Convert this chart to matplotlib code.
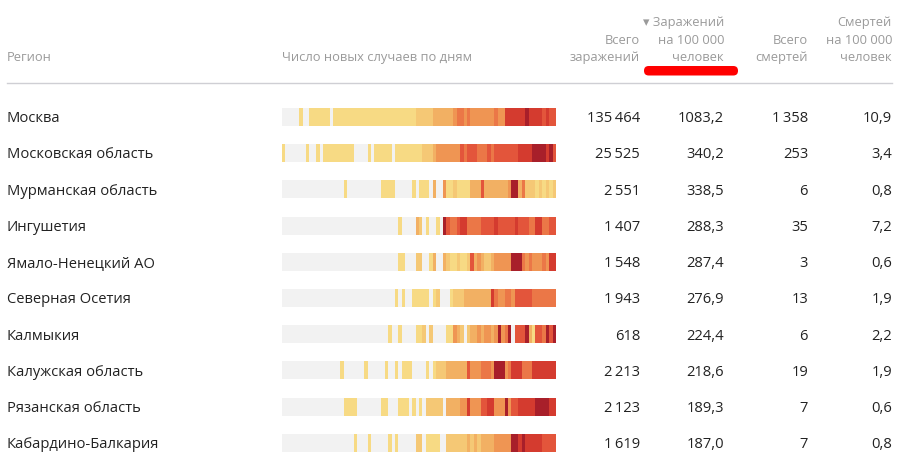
import matplotlib
matplotlib.use("Agg")
import matplotlib.pyplot as plt
import numpy as np
from matplotlib.colors import ListedColormap
from matplotlib.patches import FancyBboxPatch

plt.rcParams['font.family'] = ['Open Sans', 'DejaVu Sans']

regions = ["Москва", "Московская область", "Мурманская область", "Ингушетия",
           "Ямало-Ненецкий АО", "Северная Осетия", "Калмыкия", "Калужская область",
           "Рязанская область", "Кабардино-Балкария"]
total_cases = [135464, 25525, 2551, 1407, 1548, 1943, 618, 2213, 2123, 1619]
cases_100k = [1083.2, 340.2, 338.5, 288.3, 287.4, 276.9, 224.4, 218.6, 189.3, 187.0]
total_deaths = [1358, 253, 6, 35, 3, 13, 6, 19, 7, 7]
deaths_100k = [10.9, 3.4, 0.8, 7.2, 0.6, 1.9, 2.2, 1.9, 0.6, 0.8]

# daily intensity level (0 = no cases ... 8 = max), 80 days per region
daily_levels = [
    "0000010011" "1111011111" "1111111111" "1111111112" "2222333333" "4554544444" "4454477777" "7877776766",
    "1000000100" "1011111111" "1000010111" "1101111111" "1222344444" "4465666555" "6566666667" "7778888786",
    "0000000000" "0000000010" "0000000001" "1110000010" "1110300411" "2111133363" "3333334883" "5222121212",
    "0000000000" "0000000000" "0000000000" "0000100003" "2010010865" "5677555566" "6676666676" "6655775566",
    "0000000000" "0000000000" "0000000000" "0000110002" "2001300321" "1211263432" "2344444888" "5454445477",
    "0000000000" "0000000000" "0000000000" "0001010011" "1110120001" "2223333333" "3754455466" "6665555555",
    "0000000000" "0000000000" "0000000000" "0100100001" "1202000011" "4320233434" "4348458066" "6831665868",
    "0000000000" "0000000100" "0000100000" "1001011100" "0010122233" "3333644455" "5488845777" "5557777777",
    "0000000000" "0000000011" "1100000001" "1000111010" "1022222033" "3344744466" "7744484667" "7777888877",
    "0000000000" "0000000000" "0100010000" "0101000002" "2011110022" "2222323233" "3344444887" "8777776666",
]

level_colors = ["#f2f2f2", "#f7da84", "#f5c875", "#f2b063", "#ef9553",
                "#eb7747", "#e3553b", "#d43b2f", "#a81f2a"]
cmap = ListedColormap(level_colors)


def fmt_int(v):
    return f"{v:,}".replace(",", "\u2009")


def fmt_dec(v):
    return f"{v:.1f}".replace(".", ",")


fig = plt.figure(figsize=(9.13, 4.72), dpi=100)
ax = fig.add_axes([0, 0, 1, 1])
ax.set_xlim(0, 913)
ax.set_ylim(472, 0)
ax.axis('off')

head_color = "#9a9a9a"
text_color = "#222222"
hs = 9.3
bs = 10.6

# header
ax.text(7, 57.5, "Регион", color=head_color, fontsize=hs, va='center')
ax.text(282, 57.5, "Число новых случаев по дням", color=head_color, fontsize=hs, va='center')
col_x = [640, 724, 808, 892]
headers = [["Всего", "заражений"], ["▾ Заражений", "на 100 000", "человек"],
           ["Всего", "смертей"], ["Смертей", "на 100 000", "человек"]]
for x, lines in zip(col_x, headers):
    for k, line in enumerate(reversed(lines)):
        ax.text(x, 57.5 - 17.5 * k, line, color=head_color, fontsize=hs, ha='right', va='center')

ax.plot([7, 892], [83, 83], color="#cfcfd4", lw=1)
ax.add_patch(FancyBboxPatch((644, 66), 94, 9.5, boxstyle="round,pad=0,rounding_size=4.7",
                            fc="#ff0000", ec="none"))

x0, x1 = 282, 556
for i, reg in enumerate(regions):
    y = 117 + 36.2 * i
    vals = np.array([int(c) for c in daily_levels[i]])[None, :]
    ax.imshow(vals, cmap=cmap, vmin=-0.5, vmax=8.5, aspect='auto', interpolation='nearest',
              extent=[x0, x1, y + 9, y - 9])
    ty = y + 1.8
    ax.text(7, ty, reg, color=text_color, fontsize=bs, va='center')
    ax.text(col_x[0], ty, fmt_int(total_cases[i]), color=text_color, fontsize=bs, ha='right', va='center')
    ax.text(col_x[1], ty, fmt_dec(cases_100k[i]), color=text_color, fontsize=bs, ha='right', va='center')
    ax.text(col_x[2], ty, fmt_int(total_deaths[i]), color=text_color, fontsize=bs, ha='right', va='center')
    ax.text(col_x[3], ty, fmt_dec(deaths_100k[i]), color=text_color, fontsize=bs, ha='right', va='center')

ax.set_xlim(0, 913)
ax.set_ylim(472, 0)
fig.savefig("out.png", dpi=100)
